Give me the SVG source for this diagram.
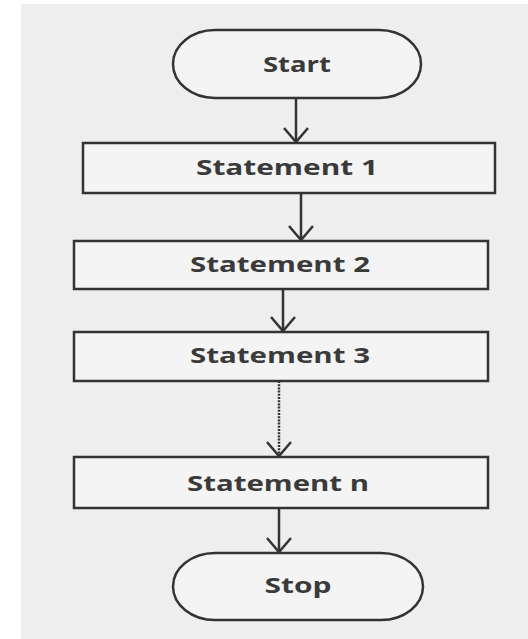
<svg xmlns="http://www.w3.org/2000/svg" width="528" height="639" viewBox="0 0 528 639">
  <style>
    .shape { fill: #f4f4f4; stroke: #333333; stroke-width: 2.5; }
    .label { font-family: "Open Sans", "Liberation Sans", sans-serif; font-weight: bold; font-size: 22px; fill: #3a3a3a; text-anchor: middle; }
    .flow { stroke: #333333; stroke-width: 2.5; fill: none; marker-end: url(#vee); }
    .dotted { stroke-dasharray: 2 1.2; }
  </style>
  <defs>
    <!-- open V arrowhead, tip at the end of the line -->
    <marker id="vee" markerUnits="userSpaceOnUse" markerWidth="20" markerHeight="30" viewBox="-17 -15 20 30" refX="0" refY="0" orient="auto" overflow="visible">
      <path d="M -14 -12 L 0 0 L -14 12" fill="none" stroke="#333333" stroke-width="2.5"/>
    </marker>
  </defs>

  <!-- page -->
  <rect x="0" y="0" width="528" height="639" fill="#ffffff"/>
  <rect x="21" y="4" width="507" height="635" fill="#eeeeee"/>

  <!-- connectors -->
  <g id="connectors">
    <line class="flow" x1="296" y1="98" x2="296" y2="142"/>
    <line class="flow" x1="301" y1="193" x2="301" y2="240"/>
    <line class="flow" x1="283" y1="289" x2="283" y2="331"/>
    <line class="flow dotted" x1="279" y1="381" x2="279" y2="456"/>
    <line class="flow" x1="279" y1="508" x2="279" y2="552"/>
  </g>

  <g id="start">
    <rect class="shape" x="173" y="30" width="248" height="68" rx="42" ry="34"/>
    <text class="label" x="297" y="72" textLength="68" lengthAdjust="spacingAndGlyphs">Start</text>
  </g>

  <g id="statement1">
    <rect class="shape" x="83" y="143" width="412" height="50"/>
    <text class="label" x="287" y="175" textLength="182" lengthAdjust="spacingAndGlyphs">Statement 1</text>
  </g>

  <g id="statement2">
    <rect class="shape" x="74" y="241" width="414" height="48"/>
    <text class="label" x="280" y="272" textLength="180" lengthAdjust="spacingAndGlyphs">Statement 2</text>
  </g>

  <g id="statement3">
    <rect class="shape" x="74" y="332" width="414" height="49"/>
    <text class="label" x="280" y="363" textLength="180" lengthAdjust="spacingAndGlyphs">Statement 3</text>
  </g>

  <g id="statementN">
    <rect class="shape" x="74" y="457" width="414" height="51"/>
    <text class="label" x="278" y="491" textLength="182" lengthAdjust="spacingAndGlyphs">Statement n</text>
  </g>

  <g id="stop">
    <rect class="shape" x="173" y="553" width="250" height="67" rx="42" ry="33.5"/>
    <text class="label" x="298" y="593" textLength="67" lengthAdjust="spacingAndGlyphs">Stop</text>
  </g>
</svg>
